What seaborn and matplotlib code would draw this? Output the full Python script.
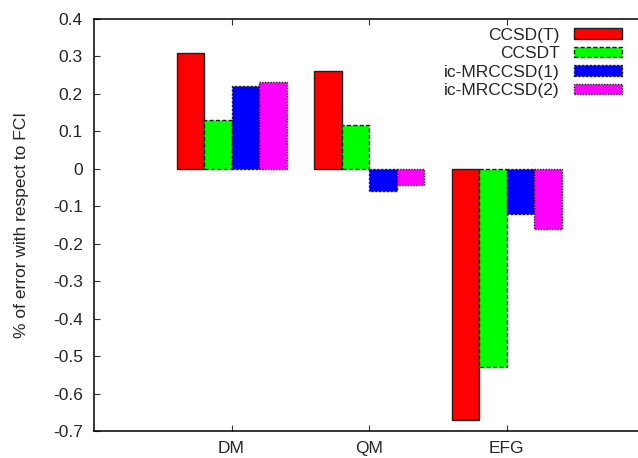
import matplotlib
matplotlib.use("Agg")
import matplotlib.pyplot as plt
from matplotlib.patches import Patch
import numpy as np
import pandas as pd
import seaborn as sns

# Percentage error with respect to FCI for each property and method
quantities = ["DM", "QM", "EFG"]
methods = ["CCSD(T)", "CCSDT", "ic-MRCCSD(1)", "ic-MRCCSD(2)"]
ccsd_t = [0.31, 0.26, -0.67]
ccsdt = [0.13, 0.117, -0.53]
ic_mrccsd_1 = [0.22, -0.06, -0.12]
ic_mrccsd_2 = [0.233, -0.042, -0.16]
y_ticks = [0.4, 0.3, 0.2, 0.1, 0.0, -0.1, -0.2, -0.3, -0.4, -0.5, -0.6, -0.7]

colors = ["#ff0000", "#00ff00", "#0000ff", "#ff00ff"]
edge_styles = ["-", (0, (3, 1.6)), (0, (1.6, 1.2)), (0, (1, 1))]

series = [ccsd_t, ccsdt, ic_mrccsd_1, ic_mrccsd_2]
df = pd.DataFrame({
    "quantity": np.repeat([quantities], len(methods), axis=0).ravel(),
    "method": np.repeat(methods, len(quantities)),
    "error": np.concatenate(series),
})

sns.set_style("ticks")
plt.rcParams["font.family"] = ["Liberation Sans", "DejaVu Sans"]
plt.rcParams["axes.unicode_minus"] = False

fig = plt.figure(figsize=(6.38, 4.58), dpi=100)
ax = fig.add_axes([94 / 638, 27 / 458, 550 / 638, 412 / 458])

sns.barplot(data=df, x="quantity", y="error", hue="method",
            order=quantities, hue_order=methods, palette=colors,
            saturation=1, width=0.8, errorbar=None, legend=False, ax=ax)

for cont, ls in zip(ax.containers, edge_styles):
    for bar in cont:
        bar.set_edgecolor("#202020")
        bar.set_linewidth(1.0)
        bar.set_linestyle(ls)

ax.set_xlim(-1, 3)
ax.set_ylim(-0.7, 0.4)
ax.set_yticks(y_ticks)
ax.set_yticklabels(["0" if abs(v) < 1e-9 else f"{v:.1f}" for v in y_ticks])
ax.set_xlabel("")
ax.set_ylabel("% of error with respect to FCI", fontsize=12.5, labelpad=17)

for side in ["left", "top", "bottom"]:
    ax.spines[side].set_visible(True)
    ax.spines[side].set_linewidth(1.1)
    ax.spines[side].set_color("black")
ax.spines["right"].set_visible(False)
ax.tick_params(axis="both", direction="in", length=4.5, width=0.8,
               labelsize=12.5, top=True, right=False, color="#333333")
ax.tick_params(axis="y", pad=8)
ax.tick_params(axis="x", pad=7)

handles = [Patch(facecolor=c, edgecolor="#202020", linewidth=1.0, linestyle=ls)
           for c, ls in zip(colors, edge_styles)]
fig.legend(handles, methods, loc="upper right",
           bbox_to_anchor=(631 / 638, 1 - 19 / 458),
           bbox_transform=fig.transFigure, markerfirst=False, frameon=False,
           fontsize=12.5, handlelength=2.8, handleheight=0.55,
           handletextpad=0.8, labelspacing=0.2, borderpad=0)

fig.savefig("out.png", dpi=100)
